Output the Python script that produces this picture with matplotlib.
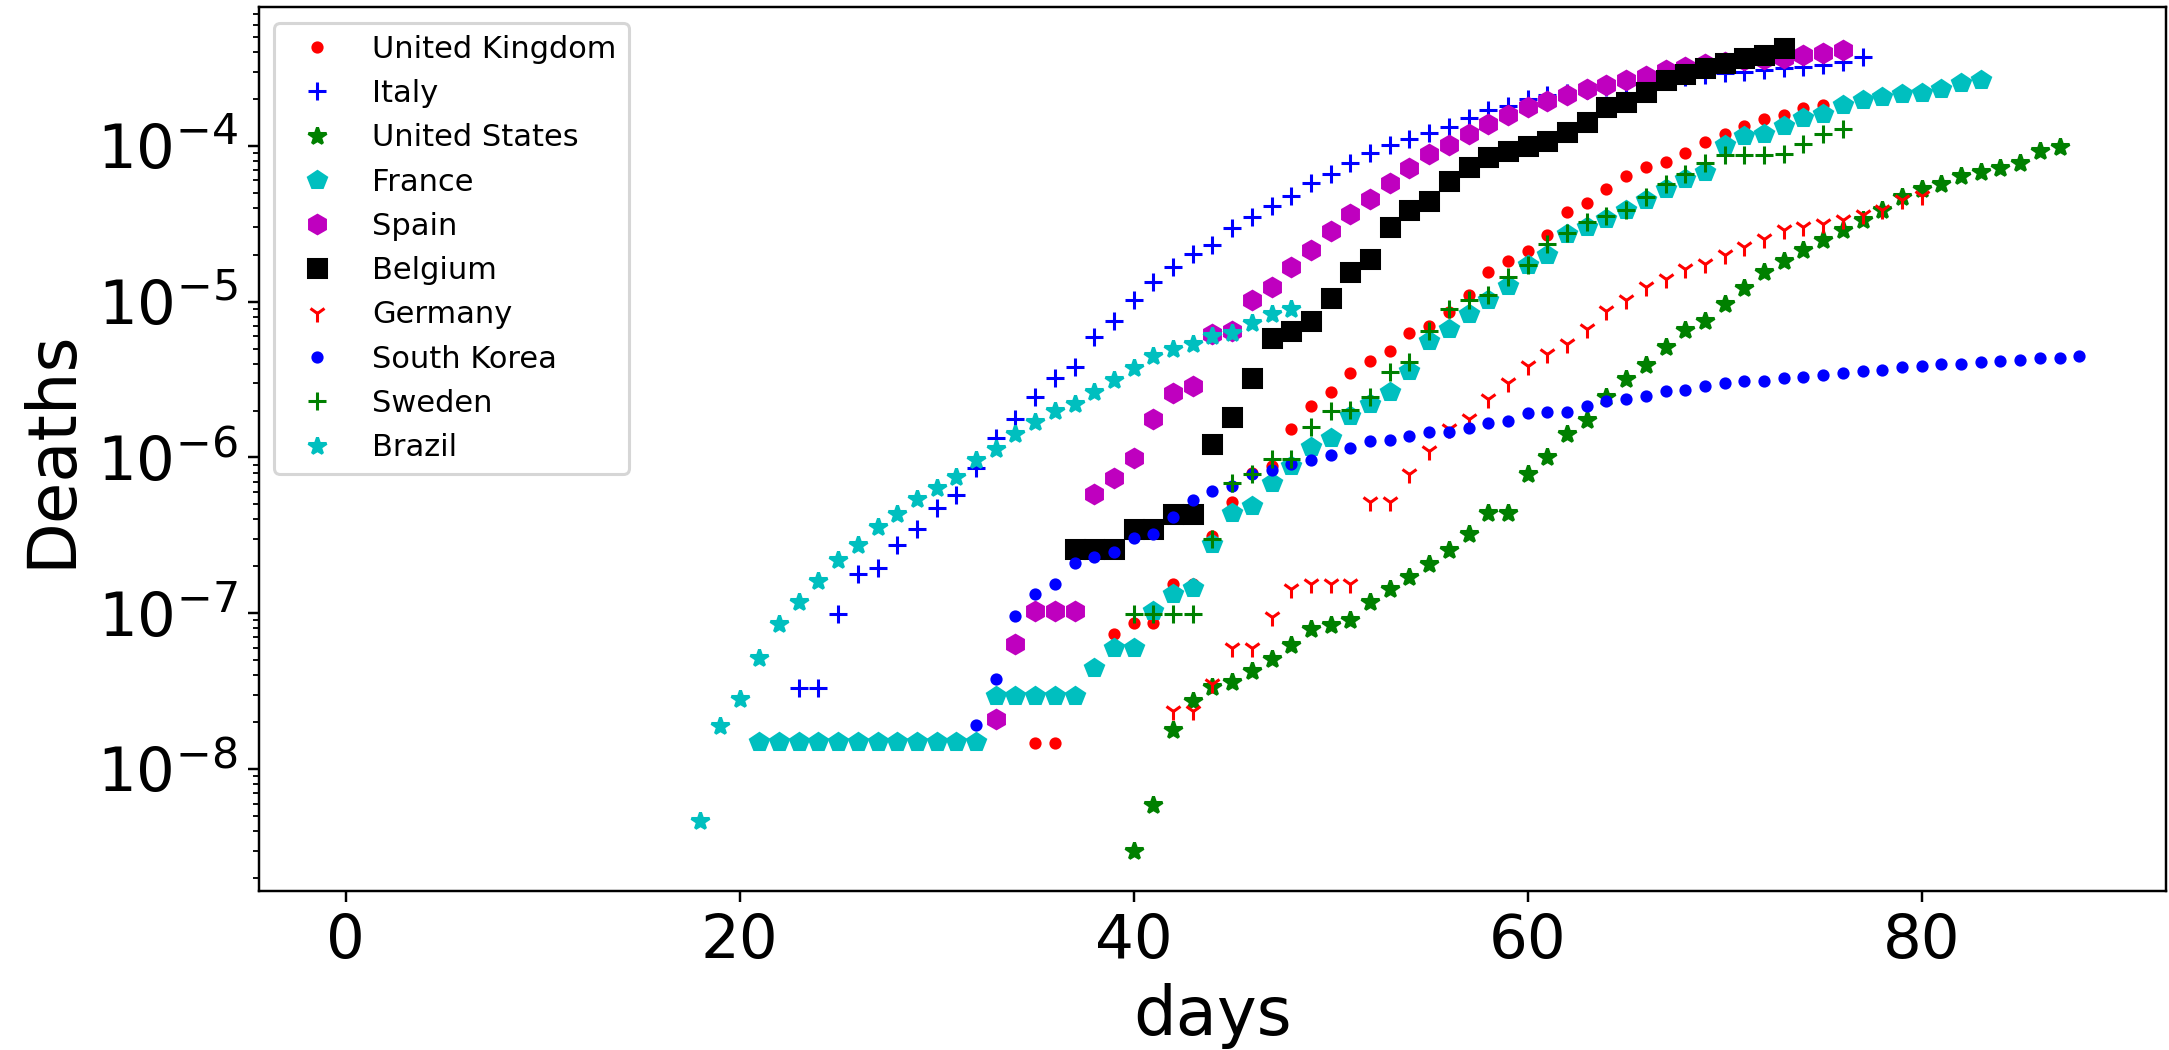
import numpy as np
import matplotlib
matplotlib.use("Agg")
import matplotlib.pyplot as plt

nan = np.nan

# ---- data (deaths per capita) ----
uk_days = list(range(35, 76))
uk_vals = [1.46e-8, 1.46e-8, nan, nan, 7.38e-8, 8.69e-8, 8.69e-8, 1.53e-7, 1.53e-7, 3.13e-7,
           5.21e-7, 8.0e-7, 8.8e-7, 1.52e-6, 2.15e-6, 2.62e-6, 3.47e-6, 4.14e-6, 4.85e-6, 6.31e-6,
           7.03e-6, 8.56e-6, 1.11e-5, 1.55e-5, 1.82e-5, 2.11e-5, 2.67e-5, 3.77e-5, 4.30e-5, 5.32e-5,
           6.38e-5, 7.35e-5, 7.89e-5, 9.02e-5, 1.06e-4, 1.19e-4, 1.34e-4, 1.48e-4, 1.58e-4, 1.74e-4,
           1.82e-4]

italy_days = list(range(23, 78))
italy_vals = [3.29e-8, 3.29e-8, 9.84e-8, 1.78e-7, 1.96e-7, 2.75e-7, 3.47e-7, 4.73e-7, 5.73e-7, 8.55e-7,
              1.33e-6, 1.76e-6, 2.43e-6, 3.22e-6, 3.83e-6, 5.91e-6, 7.57e-6, 1.03e-5, 1.33e-5, 1.68e-5,
              2.03e-5, 2.30e-5, 2.97e-5, 3.49e-5, 4.09e-5, 4.75e-5, 5.74e-5, 6.64e-5, 7.78e-5, 8.94e-5,
              1.01e-4, 1.10e-4, 1.21e-4, 1.33e-4, 1.51e-4, 1.70e-4, 1.80e-4, 1.99e-4, 2.12e-4, 2.20e-4,
              2.30e-4, 2.40e-4, 2.50e-4, 2.60e-4, 2.70e-4, 2.78e-4, 2.85e-4, 2.92e-4, 2.99e-4, 3.07e-4,
              3.15e-4, 3.22e-4, 3.30e-4, 3.47e-4, 3.70e-4]

us_days = list(range(40, 88))
us_vals = [2.98e-9, 5.9e-9, 1.77e-8, 2.72e-8, 3.35e-8, 3.62e-8, 4.25e-8, 5.1e-8, 6.3e-8, 7.9e-8,
           8.4e-8, 9.0e-8, 1.18e-7, 1.44e-7, 1.71e-7, 2.08e-7, 2.54e-7, 3.24e-7, 4.43e-7, 4.43e-7,
           7.82e-7, 1.01e-6, 1.41e-6, 1.74e-6, 2.45e-6, 3.19e-6, 3.94e-6, 5.1e-6, 6.59e-6, 7.57e-6,
           9.6e-6, 1.23e-5, 1.55e-5, 1.82e-5, 2.16e-5, 2.50e-5, 2.87e-5, 3.33e-5, 3.85e-5, 4.70e-5,
           5.25e-5, 5.73e-5, 6.38e-5, 6.81e-5, 7.16e-5, 7.78e-5, 9.29e-5, 9.86e-5]

france_days = list(range(21, 84))
france_vals = [1.49e-8] * 12 + [2.96e-8] * 5 + [4.47e-8, 5.94e-8, 5.94e-8,
               1.03e-7, 1.32e-7, 1.46e-7, 2.77e-7, 4.43e-7, 4.89e-7, 6.90e-7, 8.85e-7, 1.17e-6, 1.33e-6,
               1.85e-6, 2.20e-6, 2.65e-6, 3.57e-6, 5.62e-6, 6.70e-6, 8.36e-6, 1.02e-5, 1.27e-5, 1.71e-5,
               1.98e-5, 2.73e-5, 3.01e-5, 3.38e-5, 3.87e-5, 4.52e-5, 5.32e-5, 6.17e-5, 6.81e-5, 1.01e-4,
               1.15e-4, 1.20e-4, 1.34e-4, 1.52e-4, 1.60e-4, 1.83e-4, 1.97e-4, 2.05e-4, 2.15e-4, 2.17e-4,
               2.31e-4, 2.52e-4, 2.64e-4]

spain_days = list(range(33, 77))
spain_vals = [2.08e-8, 6.31e-8, 1.04e-7, 1.04e-7, 1.04e-7, 5.82e-7, 7.43e-7, 9.9e-7, 1.77e-6, 2.60e-6,
              2.88e-6, 6.22e-6, 6.46e-6, 1.03e-5, 1.25e-5, 1.67e-5, 2.16e-5, 2.84e-5, 3.67e-5, 4.59e-5,
              5.78e-5, 7.26e-5, 8.85e-5, 1.01e-4, 1.20e-4, 1.39e-4, 1.57e-4, 1.77e-4, 1.95e-4, 2.13e-4,
              2.31e-4, 2.47e-4, 2.66e-4, 2.82e-4, 3.05e-4, 3.22e-4, 3.35e-4, 3.45e-4, 3.55e-4, 3.62e-4,
              3.68e-4, 3.85e-4, 3.97e-4, 4.12e-4]

belgium_days = list(range(37, 74))
belgium_vals = [2.58e-7, 2.58e-7, 2.58e-7, 3.47e-7, 3.47e-7, 4.33e-7, 4.33e-7, 1.22e-6, 1.81e-6, 3.22e-6,
                5.85e-6, 6.53e-6, 7.57e-6, 1.06e-5, 1.54e-5, 1.89e-5, 3.01e-5, 3.85e-5, 4.42e-5, 5.95e-5,
                7.33e-5, 8.5e-5, 9.3e-5, 1.0e-4, 1.08e-4, 1.23e-4, 1.43e-4, 1.78e-4, 1.92e-4, 2.22e-4,
                2.64e-4, 2.89e-4, 3.15e-4, 3.39e-4, 3.65e-4, 3.83e-4, 4.23e-4]

germany_days = list(range(42, 81))
germany_vals = [2.35e-8, 2.35e-8, 3.49e-8, 6.0e-8, 6.0e-8, 9.5e-8, 1.43e-7, 1.53e-7, 1.53e-7, 1.53e-7,
                5.14e-7, 5.14e-7, 7.88e-7, 1.10e-6, 1.52e-6, 1.77e-6, 2.38e-6, 3.0e-6, 3.89e-6, 4.62e-6,
                5.36e-6, 6.70e-6, 8.77e-6, 1.02e-5, 1.24e-5, 1.40e-5, 1.63e-5, 1.75e-5, 1.98e-5, 2.26e-5,
                2.54e-5, 2.87e-5, 3.01e-5, 3.16e-5, 3.33e-5, 3.58e-5, 3.85e-5, 4.48e-5, 4.75e-5]

korea_days = list(range(32, 89))
korea_vals = [1.93e-8, 3.81e-8, 9.6e-8, 1.33e-7, 1.53e-7, 2.11e-7, 2.28e-7, 2.47e-7, 3.06e-7, 3.24e-7,
              4.16e-7, 5.32e-7, 6.11e-7, 6.58e-7, 7.82e-7, 8.29e-7, 9.07e-7, 9.62e-7, 1.03e-6, 1.15e-6,
              1.27e-6, 1.29e-6, 1.38e-6, 1.45e-6, 1.45e-6, 1.55e-6, 1.66e-6, 1.72e-6, 1.92e-6, 1.95e-6,
              1.95e-6, 2.15e-6, 2.29e-6, 2.37e-6, 2.49e-6, 2.66e-6, 2.71e-6, 2.89e-6, 2.99e-6, 3.11e-6,
              3.11e-6, 3.24e-6, 3.30e-6, 3.40e-6, 3.49e-6, 3.57e-6, 3.65e-6, 3.80e-6, 3.89e-6, 3.99e-6,
              3.99e-6, 4.09e-6, 4.19e-6, 4.25e-6, 4.35e-6, 4.35e-6, 4.45e-6]

sweden_days = list(range(40, 77))
sweden_vals = [9.84e-8, 9.84e-8, 9.84e-8, 9.84e-8, 2.99e-7, 6.9e-7, 7.8e-7, 9.77e-7, 9.77e-7, 1.56e-6,
               1.98e-6, 2.02e-6, 2.46e-6, 3.52e-6, 4.1e-6, 6.53e-6, 9.0e-6, 1.02e-5, 1.10e-5, 1.43e-5,
               1.71e-5, 2.35e-5, 2.75e-5, 3.24e-5, 3.53e-5, 3.90e-5, 4.70e-5, 5.73e-5, 6.64e-5, 7.78e-5,
               8.71e-5, 8.71e-5, 8.71e-5, 8.85e-5, 1.03e-4, 1.19e-4, 1.29e-4]

brazil_days = list(range(18, 49))
brazil_vals = [4.66e-9, 1.88e-8, 2.82e-8, 5.17e-8, 8.49e-8, 1.18e-7, 1.60e-7, 2.19e-7, 2.73e-7, 3.60e-7,
               4.32e-7, 5.40e-7, 6.35e-7, 7.51e-7, 9.62e-7, 1.13e-6, 1.41e-6, 1.68e-6, 2.00e-6, 2.22e-6,
               2.65e-6, 3.13e-6, 3.73e-6, 4.48e-6, 5.0e-6, 5.36e-6, 6.06e-6, 6.27e-6, 7.27e-6, 8.36e-6,
               9.0e-6]

countries = ["United Kingdom", "Italy", "United States", "France", "Spain",
             "Belgium", "Germany", "South Korea", "Sweden", "Brazil"]
all_days = [uk_days, italy_days, us_days, france_days, spain_days,
            belgium_days, germany_days, korea_days, sweden_days, brazil_days]
all_vals = [uk_vals, italy_vals, us_vals, france_vals, spain_vals,
            belgium_vals, germany_vals, korea_vals, sweden_vals, brazil_vals]
fmts = ["r.", "b+", "g*", "cp", "mh", "ks", "r1", "b.", "g+", "c*"]

DPI = 220
fig = plt.figure(figsize=(2169 / DPI, 1050 / DPI), dpi=DPI)
ax = fig.add_axes([0.1194, 0.1517, 0.8792, 0.8414])

for name, d, v, f in zip(countries, all_days, all_vals, fmts):
    ax.semilogy(d, v, f, label=name)

ax.set_xlim(-4.4, 92.4)
ax.set_ylim(10 ** -8.781, 10 ** -3.110)
ax.set_xlabel("days", fontsize=22)
ax.set_ylabel("Deaths", fontsize=22)
ax.tick_params(axis="both", which="major", labelsize=20)
ax.legend(loc="upper left", fontsize=10)

fig.savefig("out.png", dpi=DPI)
